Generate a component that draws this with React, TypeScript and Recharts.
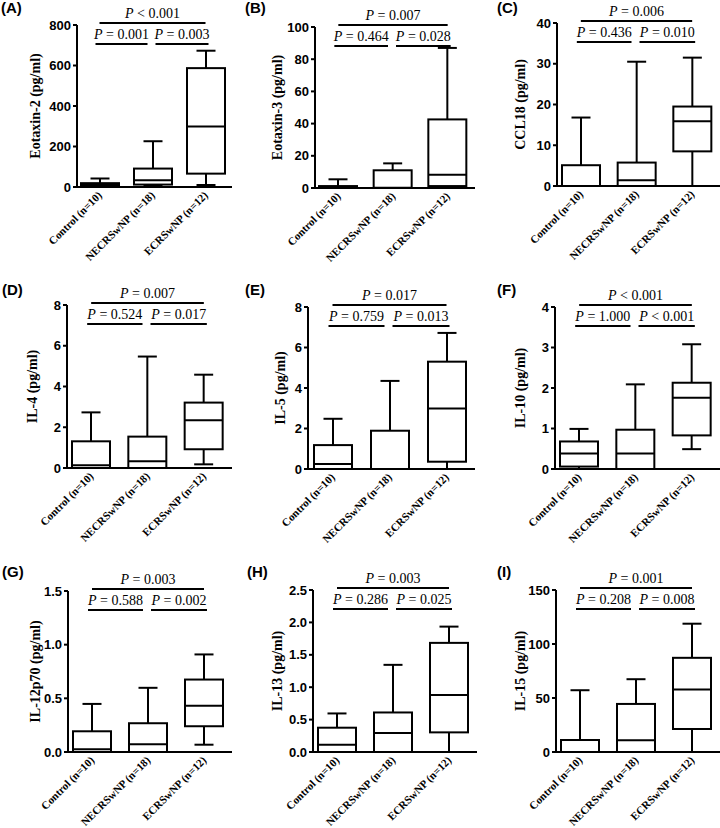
import { ComposedChart, Bar, XAxis, YAxis, ReferenceLine } from "recharts";

const categories = ["Control (n=10)", "NECRSwNP (n=18)", "ECRSwNP (n=12)"];

// each row: [min, q1, median, q3, max]
const eotaxin2 = [[0, 5, 10, 19, 42], [6, 12, 33, 91, 226], [10, 66, 299, 587, 673]];
const eotaxin3 = [[0, 0, 0.3, 1.2, 5.4], [0, 0, 0.2, 11, 15.3], [0, 1.2, 8.3, 42.6, 87]];
const ccl18 = [[0, 0, 0, 5.1, 16.8], [0, 0, 1.4, 5.75, 30.5], [0, 8.5, 15.9, 19.5, 31.5]];
const il4 = [[0, 0, 0.13, 1.31, 2.73], [0, 0, 0.33, 1.54, 5.47], [0.18, 0.92, 2.34, 3.21, 4.58]];
const il5 = [[0, 0, 0.25, 1.18, 2.48], [0, 0, 0, 1.89, 4.35], [0, 0.36, 2.99, 5.3, 6.72]];
const il10 = [[0, 0.06, 0.38, 0.68, 0.99], [0, 0, 0.38, 0.97, 2.09], [0.49, 0.83, 1.76, 2.13, 3.08]];
const il12p70 = [[0, 0, 0.025, 0.193, 0.448], [0, 0, 0.072, 0.268, 0.598], [0.068, 0.24, 0.43, 0.675, 0.909]];
const il13 = [[0, 0, 0.113, 0.375, 0.595], [0, 0, 0.293, 0.61, 1.345], [0, 0.303, 0.878, 1.684, 1.935]];
const il15 = [[0, 0, 0, 11.1, 57.2], [0, 0, 10.8, 44.5, 67.4], [0, 21.3, 57.8, 87.2, 118.8]];

const ticksA = [0, 200, 400, 600, 800];
const ticksB = [0, 20, 40, 60, 80, 100];
const ticksC = [0, 10, 20, 30, 40];
const ticksD = [0, 2, 4, 6, 8];
const ticksE = [0, 2, 4, 6, 8];
const ticksF = [0, 1, 2, 3, 4];
const ticksG = [0, 0.5, 1.0, 1.5];
const ticksH = [0, 0.5, 1.0, 1.5, 2.0, 2.5];
const ticksI = [0, 50, 100, 150];

// [overall, control vs NE, NE vs E]
const pA = ["< 0.001", "= 0.001", "= 0.003"];
const pB = ["= 0.007", "= 0.464", "= 0.028"];
const pC = ["= 0.006", "= 0.436", "= 0.010"];
const pD = ["= 0.007", "= 0.524", "= 0.017"];
const pE = ["= 0.017", "= 0.759", "= 0.013"];
const pF = ["< 0.001", "= 1.000", "< 0.001"];
const pG = ["= 0.003", "= 0.588", "= 0.002"];
const pH = ["= 0.003", "= 0.286", "= 0.025"];
const pI = ["= 0.001", "= 0.208", "= 0.008"];

const panels = [
  { tag: "(A)", title: "Eotaxin-2 (pg/ml)", stats: eotaxin2, ticks: ticksA, p: pA },
  { tag: "(B)", title: "Eotaxin-3 (pg/ml)", stats: eotaxin3, ticks: ticksB, p: pB },
  { tag: "(C)", title: "CCL18 (pg/ml)", stats: ccl18, ticks: ticksC, p: pC },
  { tag: "(D)", title: "IL-4 (pg/ml)", stats: il4, ticks: ticksD, p: pD },
  { tag: "(E)", title: "IL-5 (pg/ml)", stats: il5, ticks: ticksE, p: pE },
  { tag: "(F)", title: "IL-10 (pg/ml)", stats: il10, ticks: ticksF, p: pF },
  { tag: "(G)", title: "IL-12p70 (pg/ml)", stats: il12p70, ticks: ticksG, p: pG, dec: 1 },
  { tag: "(H)", title: "IL-13 (pg/ml)", stats: il13, ticks: ticksH, p: pH, dec: 1 },
  { tag: "(I)", title: "IL-15 (pg/ml)", stats: il15, ticks: ticksI, p: pI },
];

// layout: axis x, plot top, plot bottom, plot right, title x, tag x, tag baseline
const layout = [
  [77, 25, 187, 232, 35, 1, 13],
  [75, 27, 188, 235, 37, 5, 13],
  [77, 23, 186, 240, 40, 17, 13],
  [67, 29, 192, 232, 32, 2, 19],
  [68, 31, 193, 235, 40, 5, 19],
  [75, 31, 193, 240, 40, 17, 19],
  [68, 39, 200, 232, 35, 2, 25],
  [73, 38, 200, 237, 37, 7, 25],
  [76, 38, 200, 240, 40, 17, 25],
];

const PW = 240;
const PH = 276;
const XH = 80;

const BoxShape = (props: any) => {
  const { x, y, width, height, payload } = props;
  const [mn, q1, md, q3, mx] = payload.stats;
  const pos = (v: number) => y + (height * (mx - v)) / (mx - mn);
  const cx = x + width / 2;
  const cap = width / 4;
  return (
    <g stroke="#000" strokeWidth={2}>
      <line x1={cx} x2={cx} y1={pos(mx)} y2={pos(q3)} />
      <line x1={cx} x2={cx} y1={pos(q1)} y2={pos(mn)} />
      <line x1={cx - cap} x2={cx + cap} y1={pos(mx)} y2={pos(mx)} />
      <line x1={cx - cap} x2={cx + cap} y1={pos(mn)} y2={pos(mn)} />
      <rect x={x} y={pos(q3)} width={width} height={pos(q1) - pos(q3)} fill="#fff" />
      <line x1={x} x2={x + width} y1={pos(md)} y2={pos(md)} />
    </g>
  );
};

const bracket = (text: string, dx1: number, dx2: number, dy: number) => (props: any) => {
  const a = props.x1 + dx1;
  const b = props.x2 + dx2;
  const yy = props.y1 + dy;
  return (
    <g>
      <line x1={a} x2={b} y1={yy} y2={yy} stroke="#000" strokeWidth={2} />
      <text
        x={(a + b) / 2}
        y={yy - 5}
        textAnchor="middle"
        fontFamily="'Liberation Serif', 'Times New Roman', serif"
        fontSize={14}
        fill="#000">
        <tspan fontStyle="italic">P</tspan> {text}
      </text>
    </g>
  );
};

const XTick = (props: any) => {
  const { x, y, payload } = props;
  const ax = x + 3;
  const ay = y + 1;
  return (
    <text
      x={ax}
      y={ay}
      transform={`rotate(-45 ${ax} ${ay})`}
      textAnchor="end"
      fontFamily="'Liberation Serif', 'Times New Roman', serif"
      fontWeight="bold"
      fontSize={11}
      fill="#000">
      {payload.value}
    </text>
  );
};

const Panel = ({ panel, idx }: any) => {
  const [axisX, top, bottom, right, titleX, tagX, tagY] = layout[idx];
  const col = idx % 3;
  const row = Math.floor(idx / 3);
  const data = categories.map((name, i) => ({
    name,
    range: [panel.stats[i][0], panel.stats[i][4]],
    stats: panel.stats[i],
  }));
  const yTop = panel.ticks[panel.ticks.length - 1];
  return (
    <div style={{ position: "absolute", left: col * PW, top: row * PH, width: PW, height: PH }}>
      <ComposedChart
        width={PW}
        height={PH}
        data={data}
        margin={{ top, right: PW - right, bottom: PH - bottom - XH, left: 0 }}>
        <XAxis
          dataKey="name"
          height={XH}
          padding={{ left: -4, right: 0 }}
          axisLine={{ stroke: "#000", strokeWidth: 2 }}
          tickLine={false}
          interval={0}
          tick={<XTick />}
        />
        <YAxis
          type="number"
          width={axisX}
          domain={[0, yTop]}
          ticks={panel.ticks}
          interval={0}
          tickSize={4}
          tickFormatter={(v: number) => (panel.dec ? v.toFixed(panel.dec) : String(v))}
          axisLine={{ stroke: "#000", strokeWidth: 2 }}
          tickLine={{ stroke: "#000", strokeWidth: 2 }}
          tick={{ fill: "#000", fontFamily: "'Liberation Sans', Arial, sans-serif", fontWeight: "bold", fontSize: 13 }}
          label={{
            value: panel.title,
            angle: -90,
            position: "insideLeft",
            offset: titleX,
            style: {
              textAnchor: "middle",
              fill: "#000",
              fontFamily: "'Liberation Serif', 'Times New Roman', serif",
              fontWeight: "bold",
              fontSize: 14,
            },
          }}
        />
        <Bar dataKey="range" barSize={38} shape={<BoxShape />} isAnimationActive={false} />
        <ReferenceLine
          segment={[{ x: categories[0], y: yTop }, { x: categories[2], y: yTop }]}
          ifOverflow="visible"
          shape={bracket(panel.p[0], 0, 0, -2)}
        />
        <ReferenceLine
          segment={[{ x: categories[0], y: yTop }, { x: categories[1], y: yTop }]}
          ifOverflow="visible"
          shape={bracket(panel.p[1], -4, -5, 19)}
        />
        <ReferenceLine
          segment={[{ x: categories[1], y: yTop }, { x: categories[2], y: yTop }]}
          ifOverflow="visible"
          shape={bracket(panel.p[2], 3, 3, 19)}
        />
      </ComposedChart>
      <span
        style={{
          position: "absolute",
          left: tagX,
          top: tagY - 13,
          fontFamily: "'Liberation Sans', Arial, sans-serif",
          fontWeight: "bold",
          fontSize: 15,
          lineHeight: "15px",
          color: "#000",
        }}>
        {panel.tag}
      </span>
    </div>
  );
};

export default function App() {
  return (
    <div style={{ position: "absolute", left: 0, top: 0, width: 720, height: 828, background: "#fff" }}>
      {panels.map((p, i) => (
        <Panel key={p.tag} panel={p} idx={i} />
      ))}
    </div>
  );
}
